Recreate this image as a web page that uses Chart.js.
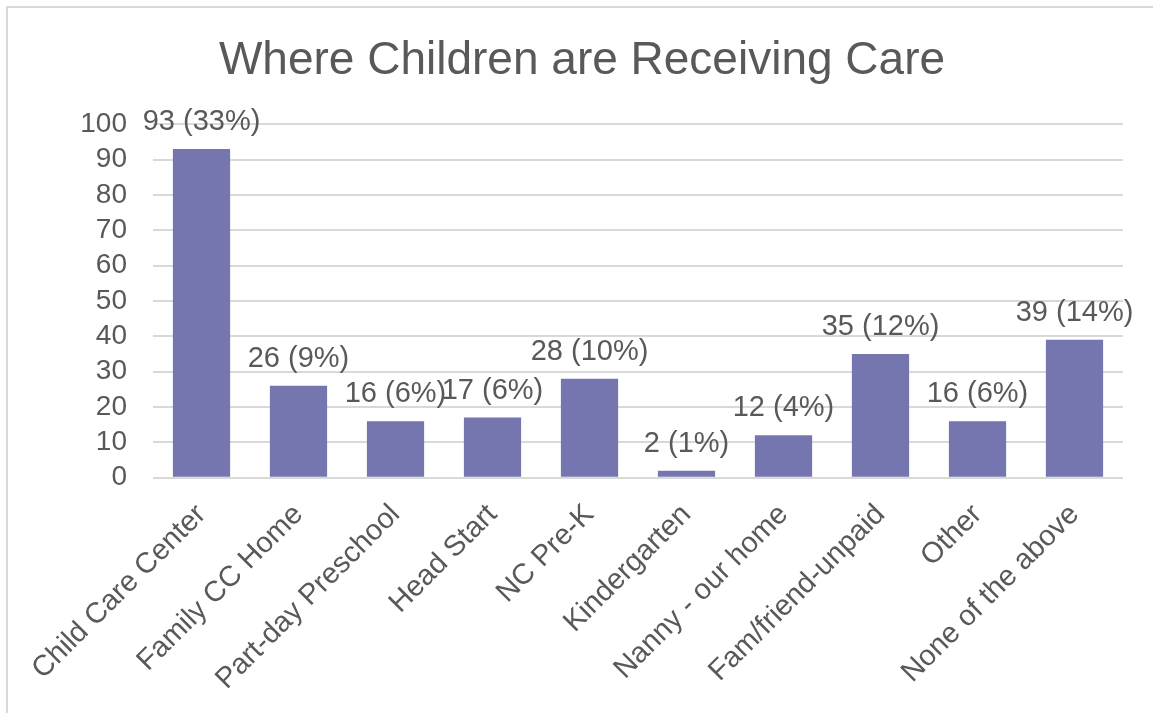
<!DOCTYPE html>
<html>
<head>
<meta charset="utf-8">
<title>Where Children are Receiving Care</title>
<script src="https://cdn.jsdelivr.net/npm/chart.js@4/dist/chart.umd.min.js"></script>
<style>
  html, body { margin: 0; padding: 0; background: #ffffff; overflow: hidden; }
  #frame {
    position: absolute; left: 6px; top: 6px; width: 1300px; height: 900px;
    border: 2px solid #d9d9d9; box-sizing: border-box;
  }
  #chart { position: absolute; left: 0; top: 0; }
</style>
</head>
<body>
<div id="frame"></div>
<canvas id="chart" width="1153" height="713"></canvas>
<script>
// Care settings and the number of children in each
const categories = [
  'Child Care Center', 'Family CC Home', 'Part-day Preschool', 'Head Start',
  'NC Pre-K', 'Kindergarten', 'Nanny - our home', 'Fam/friend-unpaid',
  'Other', 'None of the above'
];
const counts = [93, 26, 16, 17, 28, 2, 12, 35, 16, 39];
const percents = [33, 9, 6, 6, 10, 1, 4, 12, 6, 14];
const yTicks = [0, 10, 20, 30, 40, 50, 60, 70, 80, 90, 100];

const TEXT = '#595959';
const GRID = '#d9d9d9';
const FONT = '"Liberation Sans", Arial, sans-serif';

// Writes "count (pct%)" above each bar
const valueLabels = {
  id: 'valueLabels',
  afterDatasetsDraw(chart) {
    const ctx = chart.ctx;
    const meta = chart.getDatasetMeta(0);
    ctx.save();
    ctx.fillStyle = TEXT;
    ctx.font = '29px ' + FONT;
    ctx.textAlign = 'center';
    ctx.textBaseline = 'alphabetic';
    meta.data.forEach((bar, i) => {
      ctx.fillText(counts[i] + ' (' + percents[i] + '%)', bar.x, bar.y - 19);
    });
    ctx.restore();
  }
};

new Chart(document.getElementById('chart'), {
  type: 'bar',
  data: {
    labels: categories,
    datasets: [{
      data: counts,
      backgroundColor: '#7575AF',
      borderWidth: 0,
      barPercentage: 0.59,
      categoryPercentage: 1.0
    }]
  },
  options: {
    responsive: false,
    animation: false,
    events: [],
    layout: { padding: { left: 11, right: 0, top: 0, bottom: 0 } },
    plugins: {
      legend: { display: false },
      tooltip: { enabled: false },
      title: {
        display: true,
        text: 'Where Children are Receiving Care',
        color: TEXT,
        font: { family: FONT, size: 46, weight: 'normal' },
        padding: { top: 34, bottom: 35 }
      }
    },
    scales: {
      x: {
        grid: { display: false },
        border: { display: false },
        ticks: {
          color: TEXT,
          font: { family: FONT, size: 29 },
          minRotation: 45,
          maxRotation: 45,
          autoSkip: false,
          padding: 12
        },
        afterFit(scale) { scale.height = 235.3; }
      },
      y: {
        min: 0,
        max: 100,
        afterBuildTicks(scale) { scale.ticks = yTicks.map(v => ({ value: v })); },
        grid: { color: GRID, lineWidth: 2, drawTicks: false },
        border: { display: false },
        ticks: {
          color: TEXT,
          font: { family: FONT, size: 28 },
          autoSkip: false,
          padding: 26
        },
        afterFit(scale) { scale.width = 142; }
      },
      // empty right-hand axis that keeps a margin beside the plot
      yRight: {
        position: 'right',
        display: true,
        grid: { display: false, drawTicks: false },
        border: { display: false },
        ticks: { display: false },
        afterFit(scale) { scale.width = 30; }
      }
    }
  },
  plugins: [valueLabels]
});
</script>
</body>
</html>
